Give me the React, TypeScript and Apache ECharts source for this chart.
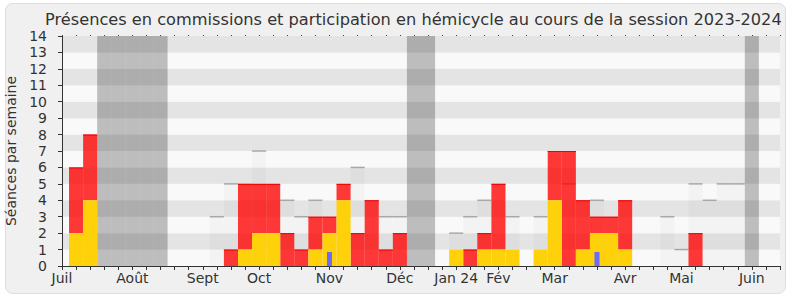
import React, { useEffect, useRef } from 'react';
import * as echarts from 'echarts';

// Week index along the session (0 = first week of July 2023)
const weeks = [0,1,2,3,4,5,6,7,8,9,10,11,12,13,14,15,16,17,18,19,20,21,22,23,24,25,26,27,28,29,30,31,32,33,34,35,36,37,38,39,40,41,42,43,44,45,46,47,48,49,50,51];
// Présences en commission (yellow)
const commission = [0,2,4,0,0,0,0,0,0,0,0,0,0,1,2,2,0,0,1,2,4,0,0,0,0,0,0,0,1,0,1,1,1,0,1,4,0,1,2,2,1,0,0,0,0,0,0,0,0,0,0,0];
// Participations en hémicycle (red)
const hemicycle = [0,4,4,0,0,0,0,0,0,0,0,0,1,4,3,3,2,1,2,1,1,2,4,1,2,0,0,0,0,1,1,4,0,0,0,3,7,3,1,1,3,0,0,0,0,2,0,0,0,0,0,0];
// Médiane des députés (grey)
const median = [0,0,0,0,0,0,0,0,0,0,0,3,5,0,7,0,4,3,4,0,0,6,0,3,3,0,0,0,2,3,4,0,3,0,3,0,5,0,4,0,0,0,0,3,1,5,4,5,5,0,0,0];
// Questions orales (blue)
const questions = [0,0,0,0,0,0,0,0,0,0,0,0,0,0,0,0,0,0,0,0.85,0,0,0,0,0,0,0,0,0,0,0,0,0,0,0,0,0,0,0.85,0,0,0,0,0,0,0,0,0,0,0,0,0];
// Vacances parlementaires
const vacationWeeks = [3,4,5,6,7,25,26,49];
// Month labels
const monthWeeks = [0,5,10,14,19,24,28,31,35,40,44,49];
const monthLabels = ['Juil','Août','Sept','Oct','Nov','Déc','Jan 24','Fév','Mar','Avr','Mai','Juin'];
const yTicks = [0,1,2,3,4,5,6,7,8,9,10,11,12,13,14];

const FONT = 'DejaVu Sans';

export default function App() {
  const ref = useRef<HTMLDivElement>(null);
  useEffect(() => {
    if (!ref.current) return;
    const chart = echarts.init(ref.current, undefined, { renderer: 'svg' });

    const barRect = (api: any, i: number, y0: number, y1: number) => {
      const p0 = api.coord([i - 0.5, y0]);
      const p1 = api.coord([i + 0.5, y1]);
      return { x: p0[0], y: p1[1], width: p1[0] - p0[0], height: p0[1] - p1[1] };
    };

    const option: any = {
      animation: false,
      backgroundColor: '#ffffff',
      graphic: [
        {
          type: 'rect', left: 5, top: 3, z: -100,
          shape: { width: 780, height: 290, r: 7 },
          style: { fill: '#f0f0f0', stroke: '#dedede', lineWidth: 1 },
        },
      ],
      title: {
        text: 'Présences en commissions et participation en hémicycle au cours de la session 2023-2024',
        left: 45, top: 11, padding: 0,
        textStyle: { fontFamily: FONT, fontSize: 16.2, fontWeight: 'normal', color: '#333' },
      },
      grid: { left: 62, right: 10, top: 36, bottom: 34, containLabel: false, outerBoundsMode: 'none' },
      xAxis: [
        {
          type: 'value', min: 0, max: 51, interval: 1,
          axisLine: { show: true, lineStyle: { color: '#333', width: 1 } },
          axisTick: { show: true, length: 4, lineStyle: { color: '#333' } },
          splitLine: { show: false },
          axisLabel: {
            fontFamily: FONT, fontSize: 14, color: '#333', margin: 5,
            formatter: (v: number) => {
              const k = monthWeeks.indexOf(Math.round(v));
              return k >= 0 ? monthLabels[k] : '';
            },
          },
        },
        {
          type: 'value', min: 0, max: 51, interval: 1, position: 'top',
          axisLine: { show: false },
          axisTick: { show: true, length: 1, lineStyle: { color: '#444' } },
          axisLabel: { show: false },
          splitLine: { show: false },
        },
      ],
      yAxis: {
        type: 'value', min: 0, max: 14, interval: 1,
        name: 'Séances par semaine', nameLocation: 'middle', nameGap: 40, nameRotate: 90,
        nameTextStyle: { fontFamily: FONT, fontSize: 14, color: '#333' },
        axisLine: { show: true, lineStyle: { color: '#333' } },
        axisTick: { show: true, length: 4, lineStyle: { color: '#333' } },
        axisLabel: {
          fontFamily: FONT, fontSize: 14, color: '#333', margin: 15,
          formatter: (v: number) => (yTicks.includes(v) ? String(v) : ''),
        },
        splitLine: { show: false },
        splitArea: { show: true, areaStyle: { color: ['#f9f9f9', '#e4e4e4'] } },
      },
      series: [
        {
          type: 'custom', name: 'Vacances', z: 1, clip: true,
          data: vacationWeeks.map((w) => [w]),
          renderItem: (params: any, api: any) => {
            const i = api.value(0);
            return { type: 'rect', shape: barRect(api, i, 0, 14), style: { fill: 'rgba(0,0,0,0.24)' } };
          },
        },
        {
          type: 'custom', name: 'Médiane', z: 2, clip: true,
          data: weeks.map((w) => [w, median[w]]),
          renderItem: (params: any, api: any) => {
            const i = api.value(0); const v = api.value(1);
            if (!v) return null;
            const r = barRect(api, i, 0, v);
            return {
              type: 'group',
              children: [
                { type: 'rect', shape: r, style: { fill: 'rgba(0,0,0,0.025)' } },
                { type: 'line', shape: { x1: r.x, y1: r.y, x2: r.x + r.width, y2: r.y }, style: { stroke: '#a8a8a8', lineWidth: 1.5 } },
              ],
            };
          },
        },
        {
          type: 'custom', name: 'Hémicycle', z: 3, clip: true,
          data: weeks.map((w) => [w, commission[w], hemicycle[w]]),
          renderItem: (params: any, api: any) => {
            const i = api.value(0); const b = api.value(1); const v = api.value(2);
            if (!v) return null;
            const r = barRect(api, i, b, b + v);
            return {
              type: 'group',
              children: [
                { type: 'rect', shape: r, style: { fill: 'rgba(255,0,0,0.78)' } },
                { type: 'line', shape: { x1: r.x, y1: r.y + 0.5, x2: r.x + r.width, y2: r.y + 0.5 }, style: { stroke: '#ee0000', lineWidth: 1 } },
              ],
            };
          },
        },
        {
          type: 'custom', name: 'Commission', z: 4, clip: true,
          data: weeks.map((w) => [w, commission[w]]),
          renderItem: (params: any, api: any) => {
            const i = api.value(0); const v = api.value(1);
            if (!v) return null;
            return { type: 'rect', shape: barRect(api, i, 0, v), style: { fill: '#ffd10a' } };
          },
        },
        {
          type: 'custom', name: 'Questions', z: 5, clip: true,
          data: weeks.map((w) => [w, questions[w]]),
          renderItem: (params: any, api: any) => {
            const i = api.value(0); const v = api.value(1);
            if (!v) return null;
            const p0 = api.coord([i, 0]);
            const p1 = api.coord([i, v]);
            return { type: 'rect', shape: { x: p0[0] - 2.5, y: p1[1], width: 5, height: p0[1] - p1[1] }, style: { fill: '#6b6bff' } };
          },
        },
      ],
    };
    chart.setOption(option);
    return () => chart.dispose();
  }, []);
  return <div ref={ref} style={{ position: 'fixed', left: 0, top: 0, width: 790, height: 300 }} />;
}
